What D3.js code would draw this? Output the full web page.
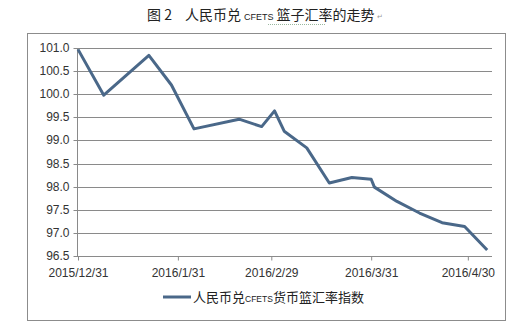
<!DOCTYPE html>
<html><head><meta charset="utf-8">
<script src="https://cdn.jsdelivr.net/npm/d3@7"></script>
<style>
html,body{margin:0;padding:0;background:#fff;}
svg{display:block;}
</style></head>
<body>
<svg id="c" width="524" height="327"></svg>
<script>
const dates = ["2015-12-31","2016-01-08","2016-01-22","2016-01-29","2016-02-05","2016-02-19","2016-02-26","2016-03-01","2016-03-04","2016-03-11","2016-03-18","2016-03-25","2016-03-31","2016-04-01","2016-04-08","2016-04-15","2016-04-22","2016-04-29","2016-05-06"];
const values = [100.97,99.98,100.84,100.2,99.25,99.46,99.30,99.64,99.20,98.84,98.08,98.20,98.16,97.99,97.68,97.43,97.22,97.14,96.63];
const yTicks = [96.5,97.0,97.5,98.0,98.5,99.0,99.5,100.0,100.5,101.0];
const xTickDates = ["2015-12-31","2016-01-31","2016-02-29","2016-03-31","2016-04-30"];
const xTickLabels = ["2015/12/31","2016/1/31","2016/2/29","2016/3/31","2016/4/30"];
const seriesName = ["人民币兑","CFETS","货币篮汇率指数"];
const titleParts = ["图 2","人民币兑","CFETS","篮子汇率的走势"];

(function(){
const parse = s => { const [yy,m,d] = s.split("-").map(Number); return new Date(yy, m-1, d); };
const svg = d3.select("#c");
const pL = 77, pR = 492, pT = 48, pB = 256;

const x = d3.scaleTime().domain([parse("2015-12-31"), new Date(2016,4,7,12)]).range([pL+1, pR]);
const y = d3.scaleLinear().domain([96.5, 101.0]).range([pB, pT]);

// outer border
svg.append("rect").attr("x",27.5).attr("y",33.5).attr("width",478).attr("height",287)
  .attr("fill","none").attr("stroke","#8c8c8c").attr("stroke-width",1);

// title
const title = svg.append("text").attr("x",147).attr("y",20).attr("font-family","'Noto Sans CJK SC', sans-serif").attr("font-size",14).attr("fill","#222");
title.append("tspan").text(titleParts[0]);
title.append("tspan").attr("x",185).text(titleParts[1]);
title.append("tspan").attr("dx",3).attr("font-size",9).attr("font-family","'Liberation Sans', sans-serif").text(titleParts[2]);
title.append("tspan").attr("dx",3).text(titleParts[3]);
svg.append("text").attr("x",377).attr("y",19).attr("font-size",7).attr("fill","#999").attr("font-family","'DejaVu Sans', sans-serif").text("↵");
svg.append("line").attr("x1",268).attr("x2",326).attr("y1",24.5).attr("y2",24.5)
  .attr("stroke","#9ab8a0").attr("stroke-width",1).attr("stroke-dasharray","1,1");

// gridlines
svg.append("g").selectAll("line").data(yTicks).join("line")
  .attr("x1",pL).attr("x2",pR)
  .attr("y1",d=>Math.round(y(d))+0.5).attr("y2",d=>Math.round(y(d))+0.5)
  .attr("stroke","#8a8a8a").attr("stroke-width",1);

// y axis
const yAxis = d3.axisLeft(y).tickValues(yTicks).tickFormat(d3.format(".1f")).tickSize(4).tickPadding(4);
const gy = svg.append("g").attr("transform",`translate(${pL+0.5},0)`).call(yAxis);
gy.select(".domain").attr("stroke","#8a8a8a").attr("d",`M0,${pT}V${pB}`);
gy.selectAll(".tick line").attr("stroke","#8a8a8a");
gy.selectAll(".tick").attr("transform",d=>`translate(0,${Math.round(y(d))+0.5})`);
gy.selectAll("text").attr("font-family","'Liberation Sans', Arial, sans-serif").attr("font-size",12).attr("fill","#333");

// x axis
const xAxis = d3.axisBottom(x).tickValues(xTickDates.map(parse)).tickFormat((d,i)=>xTickLabels[i]).tickSize(4).tickPadding(8);
const gx = svg.append("g").attr("transform",`translate(0,${pB+0.5})`).call(xAxis);
gx.select(".domain").attr("stroke","#8a8a8a").attr("d",`M${pL},0H${pR}`);
gx.selectAll(".tick line").attr("stroke","#8a8a8a");
gx.selectAll("text").attr("font-family","'Liberation Sans', Arial, sans-serif").attr("font-size",12).attr("fill","#333");

// series line
const data = dates.map((d,i)=>({d:parse(d), v:values[i]}));
svg.append("path").datum(data)
  .attr("d", d3.line().x(p=>x(p.d)).y(p=>y(p.v)))
  .attr("fill","none").attr("stroke","#4a6889").attr("stroke-width",3).attr("stroke-linejoin","round");

// legend
svg.append("line").attr("x1",163).attr("x2",191).attr("y1",297).attr("y2",297)
  .attr("stroke","#4a6889").attr("stroke-width",3);
const lg = svg.append("text").attr("x",193).attr("y",302).attr("font-family","'Noto Sans CJK SC', sans-serif").attr("font-size",13).attr("fill","#222");
lg.append("tspan").text(seriesName[0]);
lg.append("tspan").attr("font-size",8.5).attr("font-family","'Liberation Sans', sans-serif").text(seriesName[1]);
lg.append("tspan").text(seriesName[2]);
})();
</script>
</body></html>
